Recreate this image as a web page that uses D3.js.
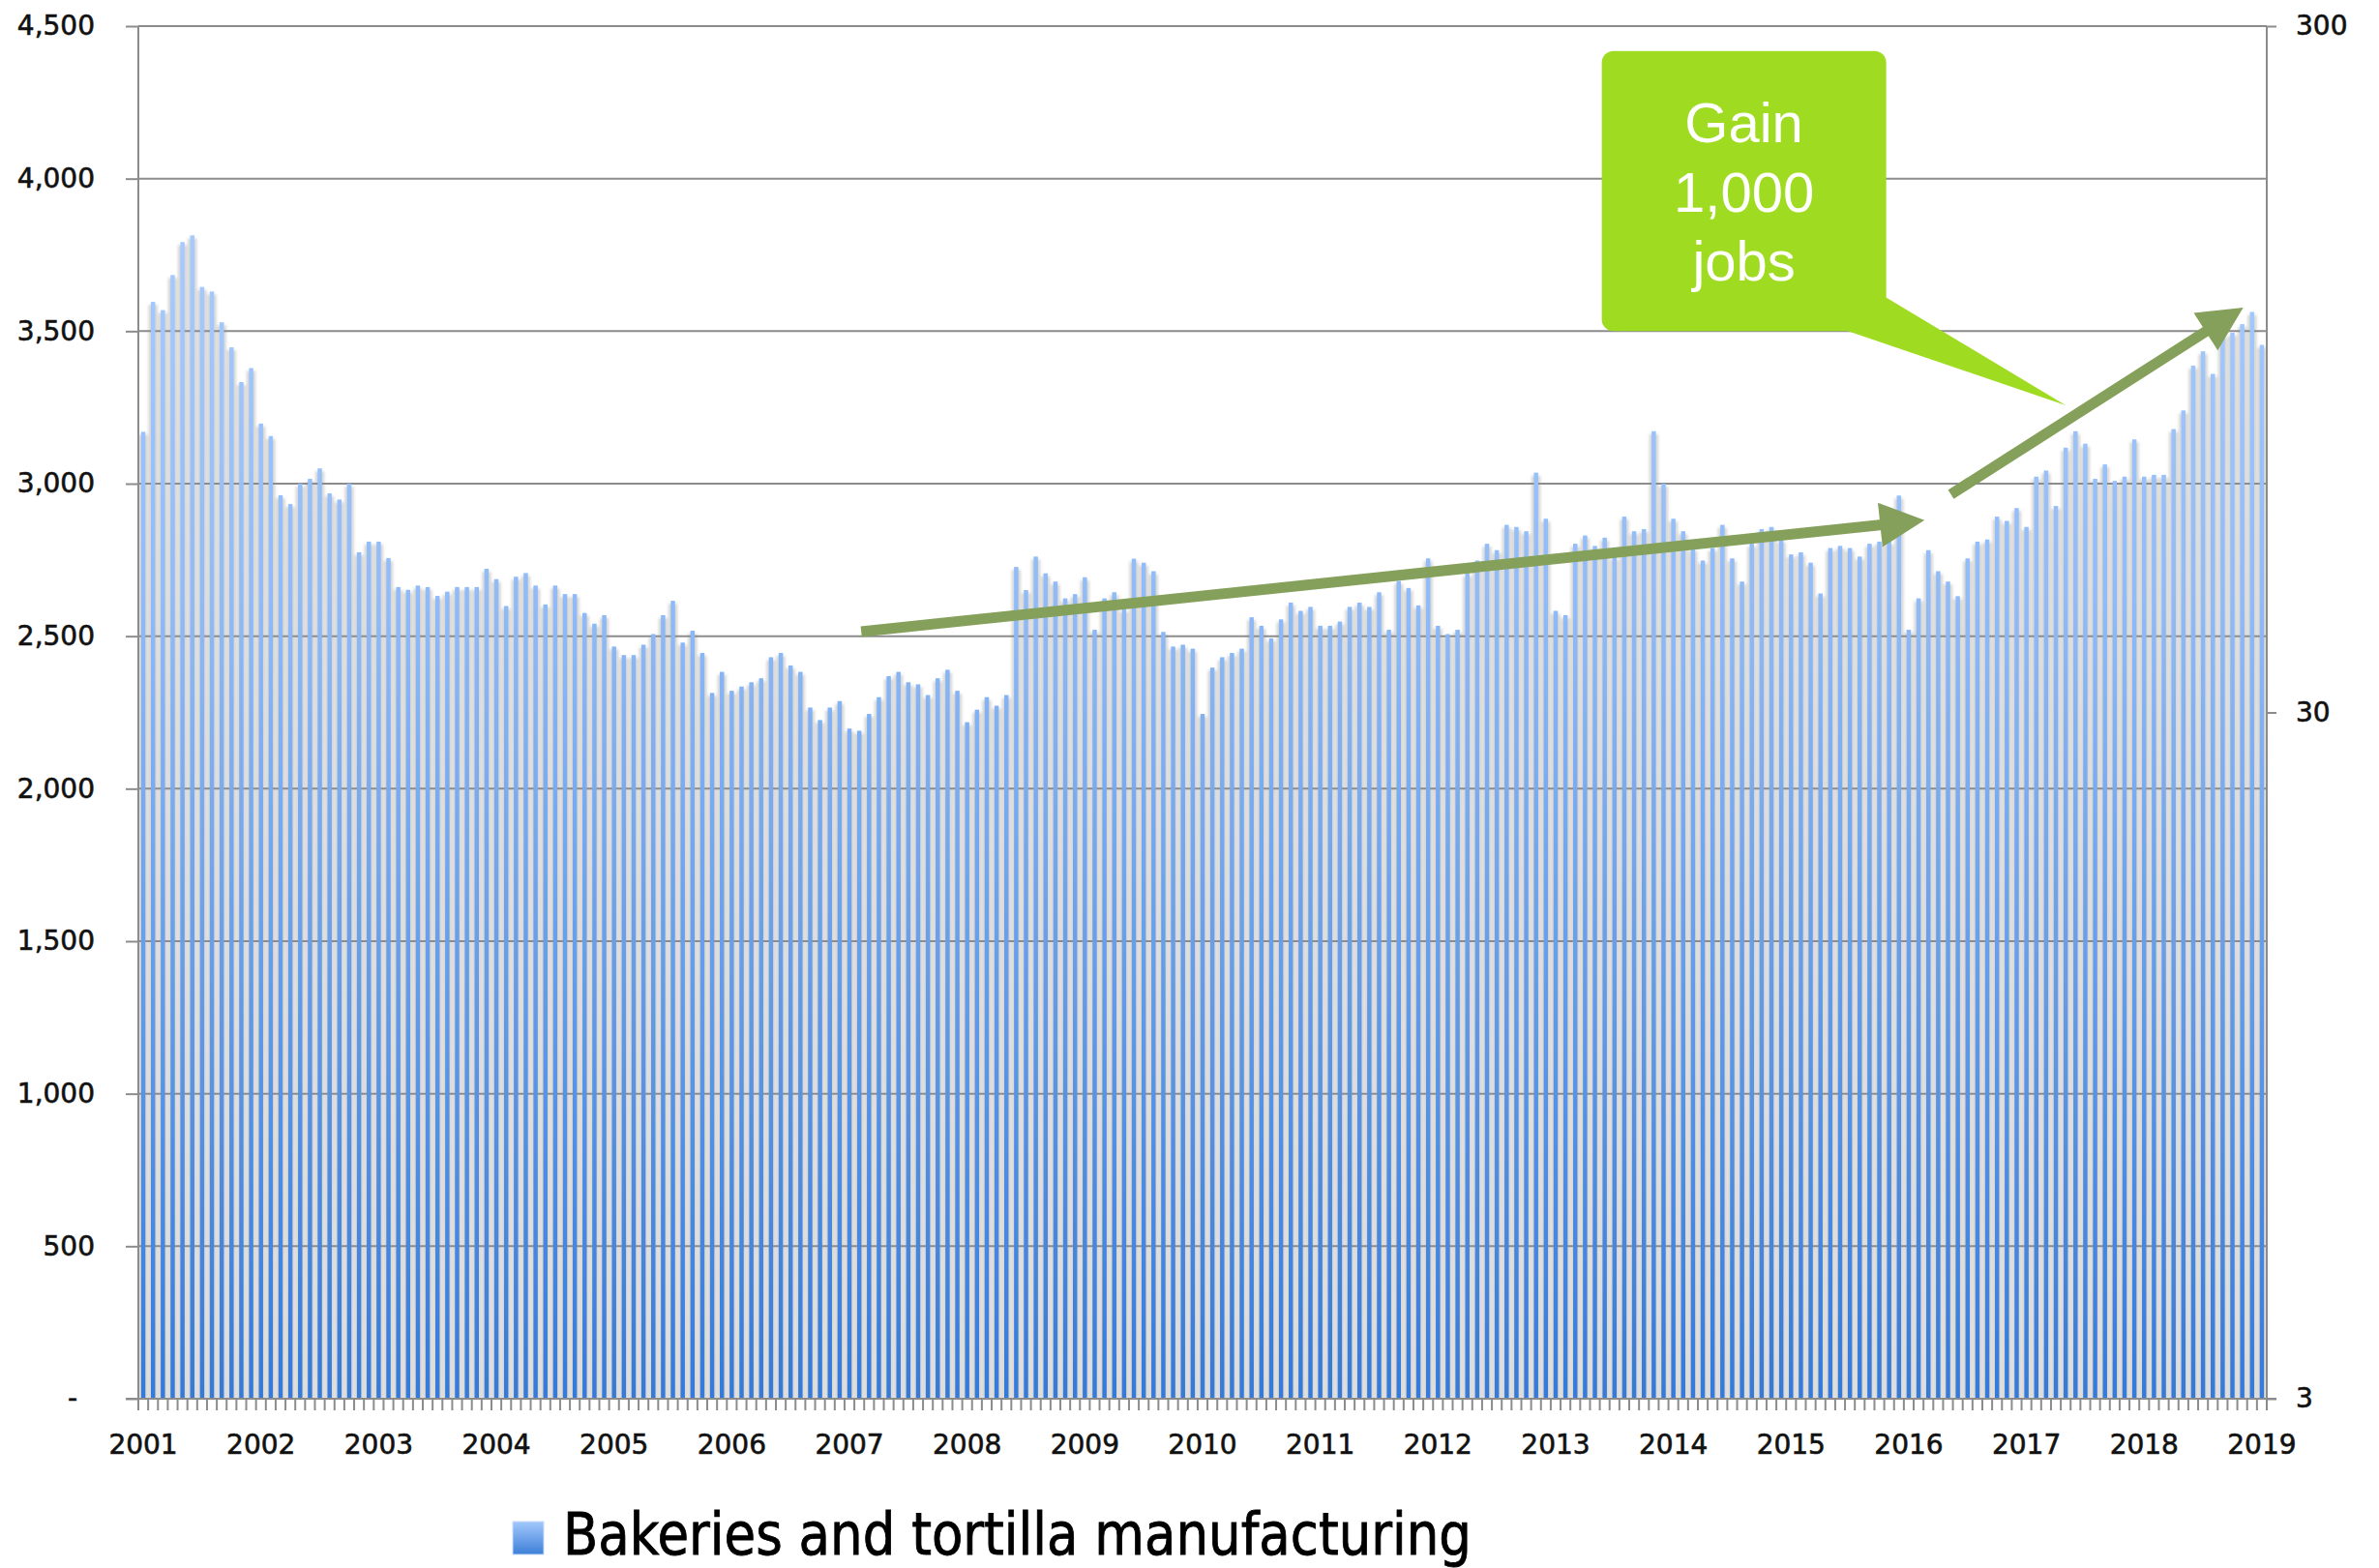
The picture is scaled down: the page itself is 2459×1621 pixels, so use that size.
<!DOCTYPE html>
<html lang="en">
<head>
<meta charset="utf-8">
<style>
  body { margin: 0; background: #fff; }
  text { font-family: "DejaVu Sans", sans-serif; fill: #111; }
  .axis path, .axis line { stroke: #8c8c8c; stroke-width: 2px; }
  .axis text, .yr { stroke: #111; stroke-width: 0.6px; }
  .grid line { stroke: #8c8c8c; stroke-width: 2px; }
</style>
</head>
<body>
<svg width="2459" height="1621"></svg>

<script src="https://d3js.org/d3.v7.min.js"></script>
<script>

// monthly employment, Jan 2001 .. Jan 2019
var years = [2001, 2002, 2003, 2004, 2005, 2006, 2007, 2008, 2009, 2010,
             2011, 2012, 2013, 2014, 2015, 2016, 2017, 2018, 2019];

var values = [
  3170, 3596, 3569, 3684, 3792, 3814, 3645, 3630, 3529, 3447, 3333, 3379, // 2001
  3197, 3156, 2962, 2933, 3000, 3016, 3050, 2968, 2948, 3000, 2775, 2810, // 2002
  2810, 2756, 2661, 2652, 2666, 2661, 2632, 2646, 2661, 2661, 2661, 2721, // 2003
  2687, 2599, 2695, 2707, 2666, 2604, 2666, 2638, 2638, 2576, 2541, 2569, // 2004
  2466, 2438, 2438, 2472, 2507, 2569, 2616, 2479, 2518, 2445, 2314, 2383, // 2005
  2321, 2335, 2349, 2362, 2431, 2445, 2404, 2383, 2266, 2225, 2266, 2287, // 2006
  2197, 2190, 2245, 2300, 2369, 2383, 2349, 2342, 2307, 2362, 2390, 2321, // 2007
  2218, 2259, 2300, 2272, 2307, 2727, 2651, 2761, 2706, 2679, 2624, 2638, // 2008
  2693, 2521, 2624, 2644, 2589, 2754, 2741, 2713, 2514, 2466, 2472, 2459, // 2009
  2245, 2397, 2431, 2445, 2459, 2562, 2534, 2493, 2555, 2610, 2583, 2596, // 2010
  2534, 2534, 2548, 2596, 2610, 2596, 2644, 2521, 2681, 2658, 2601, 2755, // 2011
  2534, 2507, 2521, 2706, 2748, 2803, 2782, 2865, 2858, 2844, 3036, 2885, // 2012
  2583, 2569, 2803, 2830, 2796, 2823, 2761, 2892, 2844, 2851, 3172, 3000, // 2013
  2885, 2844, 2789, 2748, 2789, 2865, 2755, 2679, 2803, 2851, 2858, 2817, // 2014
  2768, 2775, 2741, 2640, 2789, 2796, 2789, 2761, 2803, 2810, 2810, 2961, // 2015
  2521, 2624, 2782, 2713, 2679, 2631, 2755, 2810, 2817, 2892, 2878, 2920, // 2016
  2858, 3023, 3043, 2927, 3118, 3172, 3131, 3016, 3063, 3009, 3023, 3145, // 2017
  3023, 3029, 3029, 3179, 3240, 3387, 3434, 3360, 3489, 3495, 3523, 3563, // 2018
  3455                                                                    // 2019
];

var leftTicks = [0, 500, 1000, 1500, 2000, 2500, 3000, 3500, 4000, 4500];
var rightTicks = [3, 30, 300];
var legendLabel = "Bakeries and tortilla manufacturing";
var calloutLines = ["Gain", "1,000", "jobs"];

// annotations in (month index, value)
var trendArrows = [
  { from: [73.2, 2515], to: [181.6, 2880] },
  { from: [184.3, 2965], to: [214.1, 3577] }
];
var callout = { left: 148.7, right: 177.7, top: 4418, bottom: 3500,
                baseLeft: 173.5, baseRight: 3612, tip: [196, 3257] };

var svg = d3.select("svg");
var x0 = 143, x1 = 2343, yTop = 27, yBase = 1446;

var x = d3.scaleBand()
    .domain(d3.range(values.length))
    .range([x0, x1])
    .paddingInner(0.56)
    .paddingOuter(0.28);
var y = d3.scaleLinear().domain([0, 4500]).range([yBase, yTop]);
var yRight = d3.scaleLog().domain([3, 300]).range([yBase, yTop]);

function mx(m) { return x0 + (m + 0.5) * x.step(); }

var defs = svg.append("defs");
var grad = defs.append("linearGradient").attr("id", "barGrad")
    .attr("gradientUnits", "userSpaceOnUse")
    .attr("x1", 0).attr("y1", 260).attr("x2", 0).attr("y2", yBase);
grad.append("stop").attr("offset", "0").attr("stop-color", "#a6cafd");
grad.append("stop").attr("offset", "0.3").attr("stop-color", "#90bbf7");
grad.append("stop").attr("offset", "1").attr("stop-color", "#357ad8");

var lgGrad = defs.append("linearGradient").attr("id", "legGrad")
    .attr("x1", 0).attr("y1", 0).attr("x2", 0).attr("y2", 1);
lgGrad.append("stop").attr("offset", "0").attr("stop-color", "#a3c8fc");
lgGrad.append("stop").attr("offset", "1").attr("stop-color", "#3d7fd8");

defs.append("filter").attr("id", "soft")
    .attr("x", "-5%").attr("y", "-5%").attr("width", "110%").attr("height", "110%")
  .append("feGaussianBlur").attr("stdDeviation", 1.8);

// bar shadows
svg.append("g").attr("filter", "url(#soft)")
  .selectAll("rect")
  .data(values)
  .enter().append("rect")
    .attr("x", function(d, i) { return x(i) + x.bandwidth() / 2 - x.step() / 2 + 0.5; })
    .attr("y", function(d) { return y(d) + 3; })
    .attr("width", x.step() - 1)
    .attr("height", function(d) { return yBase - y(d) - 3; })
    .attr("fill", "#d4d4d4");

// gridlines
svg.append("g").attr("class", "grid")
  .selectAll("line")
  .data(leftTicks.slice(1))
  .enter().append("line")
    .attr("x1", x0).attr("x2", x1)
    .attr("y1", function(d) { return y(d); })
    .attr("y2", function(d) { return y(d); });

// bars
svg.append("g")
  .selectAll("rect")
  .data(values)
  .enter().append("rect")
    .attr("x", function(d, i) { return x(i); })
    .attr("y", function(d) { return y(d); })
    .attr("width", x.bandwidth())
    .attr("height", function(d) { return yBase - y(d); })
    .attr("fill", "url(#barGrad)");

// left axis
var gl = svg.append("g").attr("class", "axis")
    .attr("transform", "translate(" + x0 + ",0)")
    .call(d3.axisLeft(y).tickValues(leftTicks).tickSize(13).tickPadding(32)
      .tickFormat(function(d) { return d === 0 ? "-" : d3.format(",")(d); }));
gl.select(".domain").attr("d", "M0," + yTop + "V" + yBase);
gl.selectAll("text").attr("font-size", 28).style("font-family", "DejaVu Sans")
  .attr("fill", "#111")
  .attr("dx", function(d) { return d === 0 ? -18 : 0; });

// right axis
var gr = svg.append("g").attr("class", "axis")
    .attr("transform", "translate(" + x1 + ",0)")
    .call(d3.axisRight(yRight).tickValues(rightTicks).tickSize(10).tickPadding(20)
      .tickFormat(d3.format("d")));
gr.select(".domain").attr("d", "M0," + yTop + "V" + yBase);
gr.selectAll("text").attr("font-size", 28).style("font-family", "DejaVu Sans")
  .attr("fill", "#111");

// baseline + monthly ticks
var gx = svg.append("g").attr("class", "axis");
gx.append("line").attr("x1", x0 - 13).attr("x2", x1 + 10)
  .attr("y1", yBase).attr("y2", yBase);
gx.selectAll("line.mt")
  .data(d3.range(values.length + 1))
  .enter().append("line").attr("class", "mt")
    .attr("x1", function(i) { return x0 + i * x.step(); })
    .attr("x2", function(i) { return x0 + i * x.step(); })
    .attr("y1", yBase).attr("y2", yBase + 12);

gx.selectAll("text")
  .data(years)
  .enter().append("text")
    .attr("x", function(d, i) { return x(i * 12) + x.bandwidth() / 2; })
    .attr("y", 1503)
    .attr("text-anchor", "middle")
    .attr("font-size", 28)
    .text(function(d) { return d; });

// trend arrows
var arrowColor = "#84a05a";
var ga = svg.append("g");
trendArrows.forEach(function(a) {
  var sx = mx(a.from[0]), sy = y(a.from[1]);
  var tx = mx(a.to[0]), ty = y(a.to[1]);
  var dx = tx - sx, dy = ty - sy, len = Math.sqrt(dx * dx + dy * dy);
  var ux = dx / len, uy = dy / len, head = 46, half = 23;
  var bx = tx - ux * head, by = ty - uy * head;
  ga.append("line")
    .attr("x1", sx).attr("y1", sy).attr("x2", bx + ux * 2).attr("y2", by + uy * 2)
    .attr("stroke", arrowColor).attr("stroke-width", 11);
  ga.append("polygon")
    .attr("points", [[tx, ty], [bx - uy * half, by + ux * half], [bx + uy * half, by - ux * half]].join(" "))
    .attr("fill", arrowColor);
});

// callout
var gc = svg.append("g");
var cl = mx(callout.left), cr = mx(callout.right), ct = y(callout.top), cb = y(callout.bottom);
gc.append("path")
  .attr("d", "M" + mx(callout.baseLeft) + "," + (cb - 1) +
             "L" + mx(callout.tip[0]) + "," + y(callout.tip[1]) +
             "L" + (cr - 1) + "," + y(callout.baseRight) + "Z")
  .attr("fill", "#9fdc21");
gc.append("rect")
  .attr("x", cl).attr("y", ct).attr("width", cr - cl).attr("height", cb - ct)
  .attr("rx", 12).attr("fill", "#9fdc21");
gc.selectAll("text")
  .data(calloutLines)
  .enter().append("text")
    .attr("x", (cl + cr) / 2)
    .attr("y", function(d, i) { return 147 + i * 71.5; })
    .attr("text-anchor", "middle")
    .attr("font-size", 58)
    .style("font-family", "'Liberation Sans', Arial, sans-serif")
    .style("fill", "#fff")
    .text(function(d) { return d; });

// legend
var gleg = svg.append("g");
gleg.append("rect")
  .attr("x", 530).attr("y", 1573).attr("width", 32).attr("height", 34)
  .attr("fill", "url(#legGrad)").attr("stroke", "#c8dcf8").attr("stroke-width", 1);
gleg.append("text")
  .attr("x", 582).attr("y", 1607)
  .attr("font-size", 60)
  .attr("textLength", 939).attr("lengthAdjust", "spacingAndGlyphs")
  .style("font-family", "'Liberation Sans Narrow', 'DejaVu Sans Condensed', 'Open Sans', sans-serif")
  .style("fill", "#000").style("stroke", "#000").style("stroke-width", "0.8px")
  .text(legendLabel);

</script>
</body>
</html>
